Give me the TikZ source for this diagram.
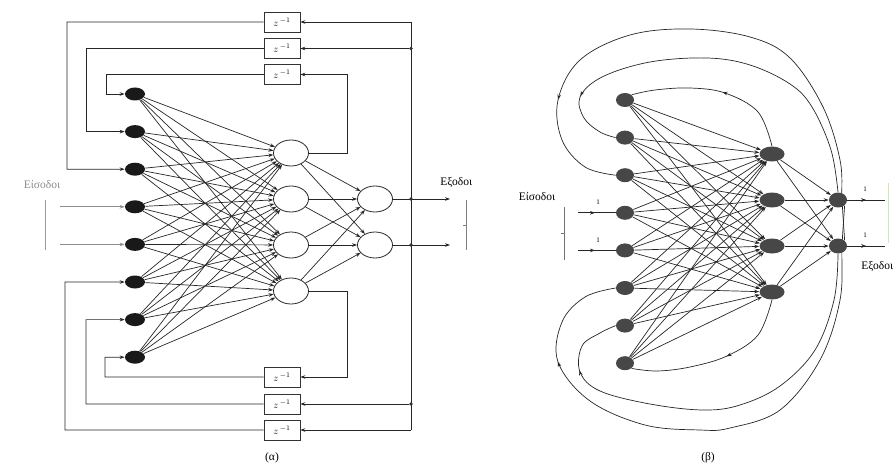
\documentclass[tikz,border=0pt]{standalone}
\usepackage{fontspec}
\setmainfont{Liberation Serif}
\usetikzlibrary{arrows.meta,decorations.markings,shapes.geometric,backgrounds}
\definecolor{lgreen}{RGB}{205,232,175}
\begin{document}
\begin{tikzpicture}[x=1pt,y=-1pt,line width=0.75pt,
  >={Stealth[length=5pt,width=3.6pt]},
  ina/.style={ellipse,fill=black!90,minimum width=20pt,minimum height=13pt,inner sep=0pt},
  hida/.style={ellipse,draw=black!85,line width=0.8pt,fill=white,minimum width=35pt,minimum height=26pt,inner sep=0pt},
  zbox/.style={draw=black!80,fill=white,minimum width=36pt,minimum height=20pt,inner sep=0pt,font=\normalsize},
  inb/.style={ellipse,fill=black!72,minimum width=18pt,minimum height=14pt,inner sep=0pt},
  hidb/.style={ellipse,fill=black!72,minimum width=25pt,minimum height=15pt,inner sep=0pt},
  outb/.style={ellipse,fill=black!72,minimum width=18pt,minimum height=15pt,inner sep=0pt},
  jdot/.style={circle,fill=black!80,inner sep=0pt,minimum size=3.8pt},
  link/.style={->,draw=black!85,line width=0.7pt},
  wire/.style={draw=black!85,line width=0.7pt},
  midarrow/.style={postaction={decorate},decoration={markings,mark=at position #1 with {\arrow{Stealth[length=5pt,width=3.6pt]}}}},
  lbl/.style={font=\fontsize{11.5}{13}\selectfont,inner sep=0pt},
  one/.style={font=\scriptsize,inner sep=0pt}
]
\clip (0,0) rectangle (893,468);
\useasboundingbox (0,0) rectangle (893,468);

% ===================== (a) =====================
\foreach \k in {1,...,8} \node[ina] (a\k) at (135,{94+37.6*(\k-1)}) {};
\foreach \k in {1,...,4} \node[hida] (ha\k) at (291,{153+46*(\k-1)}) {};
\node[hida] (oa1) at (375,199) {};
\node[hida] (oa2) at (375,245) {};

\node[zbox] (z1) at (282,22) {$z^{\,-1}$};
\node[zbox] (z2) at (282,48.5) {$z^{\,-1}$};
\node[zbox] (z3) at (282,74.5) {$z^{\,-1}$};
\node[zbox] (z4) at (282,377) {$z^{\,-1}$};
\node[zbox] (z5) at (282,404) {$z^{\,-1}$};
\node[zbox] (z6) at (282,430) {$z^{\,-1}$};

\coordinate (vt) at (411,22);
\coordinate (vb) at (411,430);
\node[jdot] (j2) at (411,48.5) {};
\node[jdot] (jo1) at (411,199) {};
\node[jdot] (jo2) at (411,245) {};
\node[jdot] (j5) at (411,404) {};
\coordinate (ea1) at (450,199);
\coordinate (ea2) at (450,245);
\coordinate (sa4) at (60,{94+37.6*3});
\coordinate (sa5) at (60,{94+37.6*4});

\begin{scope}[on background layer]
\foreach \i in {1,...,8} \foreach \j in {1,...,4} \draw[link] (a\i) -- (ha\j);
\foreach \i in {1,...,4} \foreach \j in {1,2} \draw[link] (ha\i) -- (oa\j);
\draw[link] (oa1) -- (ea1);
\draw[link] (oa2) -- (ea2);
\draw[wire] (vt) -- (vb);
\draw[link] (vt) -- (z1.east);
\draw[link] (j2) -- (z2.east);
\draw[link] (j5) -- (z5.east);
\draw[link] (vb) -- (z6.east);
\draw[link] (ha1.east) -| (347,74.5) -- (z3.east);
\draw[link] (ha4.east) -| (347,377) -- (z4.east);
\draw[link] (z3.west) -| (106,94) -- (a1.west);
\draw[link] (z2.west) -| (86,131.6) -- (a2.west);
\draw[link] (z1.west) -| (67,169.2) -- (a3.west);
\draw[link] (z4.west) -| (105,357.2) -- (a8.west);
\draw[link] (z5.west) -| (86,319.6) -- (a7.west);
\draw[link] (z6.west) -| (65,282) -- (a6.west);
\draw[link,draw=black!45] (sa4) -- (a4.west);
\draw[link,draw=black!45] (sa5) -- (a5.west);
\end{scope}

\node[lbl,anchor=west] (outa) at (440,182) {Εξοδοι};
\draw[black!50,line width=0.5pt] (466,200) -- (466,250) (466,225) -- (463,225);
\node[lbl,text=black!45] (ina) at (42,185) {Είσοδοι};
\draw[black!40,line width=0.6pt] (45,200) -- (45,250);
\node[lbl] (capa) at (272,458) {(α)};

% ===================== (b) =====================
\foreach \k in {1,...,8} \node[inb] (b\k) at (625,{100+37.6*(\k-1)}) {};
\foreach \k in {1,...,4} \node[hidb] (hb\k) at (772,{154+46*(\k-1)}) {};
\node[outb] (ob1) at (838,200) {};
\node[outb] (ob2) at (838,246) {};

\coordinate (sb4) at (578,{100+37.6*3});
\coordinate (sb5) at (578,{100+37.6*4});
\coordinate (eb1) at (885,200);
\coordinate (eb2) at (885,246);

\begin{scope}[on background layer]
\foreach \i in {1,...,8} \foreach \j in {1,...,4} \draw[link] (b\i) -- (hb\j);
\foreach \i in {1,...,4} \foreach \j in {1,2} \draw[link] (hb\i) -- (ob\j);
\draw[wire,midarrow=0.5] (ob1) -- (eb1);
\draw[wire,midarrow=0.5] (ob2) -- (eb2);
\draw[wire,midarrow=0.45] (sb4) -- (b4);
\draw[wire,midarrow=0.45] (sb5) -- (b5);
% top feedback
\draw[wire,midarrow=0.46] plot[smooth,tension=0.6] coordinates {(hb1.north) (758,112) (725,93) (690,88) (655,90) (b1.north east)};
\draw[wire,midarrow=0.85] plot[smooth,tension=0.6] coordinates {(ob1.north) (831,150) (812,107) (790,84) (750,65) (707,58) (650,62) (602,77) (580,97) (584,118) (600,132) (b2.west)};
\draw[wire,midarrow=0.81] plot[smooth,tension=0.6] coordinates {(ob2.north east) (842,200) (840,160) (823,107) (790,58) (750,37) (690,29) (630,35) (580,60) (558,100) (562,140) (585,167) (b3.west)};
% bottom feedback
\draw[wire,midarrow=0.44] plot[smooth,tension=0.6] coordinates {(hb4.south) (758,335) (727,356) (690,367) (657,371) (b8.south east)};
\draw[wire,midarrow=0.85] plot[smooth,tension=0.6] coordinates {(ob2.south) (834,300) (815,350) (780,386) (740,405) (703,410) (650,404) (600,391) (580,372) (582,346) (600,333) (b7.west)};
\draw[wire,midarrow=0.815] plot[smooth,tension=0.6] coordinates {(ob1.south east) (842,246) (840,300) (820,360) (780,410) (730,428) (700,430) (645,425) (590,401) (558,362) (562,322) (585,297) (b6.west)};
\end{scope}

\node[one] (ib1) at (598,202) {1};
\node[one] (ib2) at (598,240) {1};
\node[one] (ob1l) at (865,189) {1};
\node[one] (ob2l) at (865,235) {1};
\node[lbl] (inbl) at (537,197) {Είσοδοι};
\draw[black!55,line width=0.5pt] (564,207) -- (564,260) (564,233) -- (561,233);
\node[lbl,anchor=west] (outbl) at (861,266) {Εξοδοι};
\draw[lgreen,line width=1pt] (888,183) -- (888,243);
\node[lbl] (capb) at (708,458) {(β)};
\end{tikzpicture}
\end{document}
